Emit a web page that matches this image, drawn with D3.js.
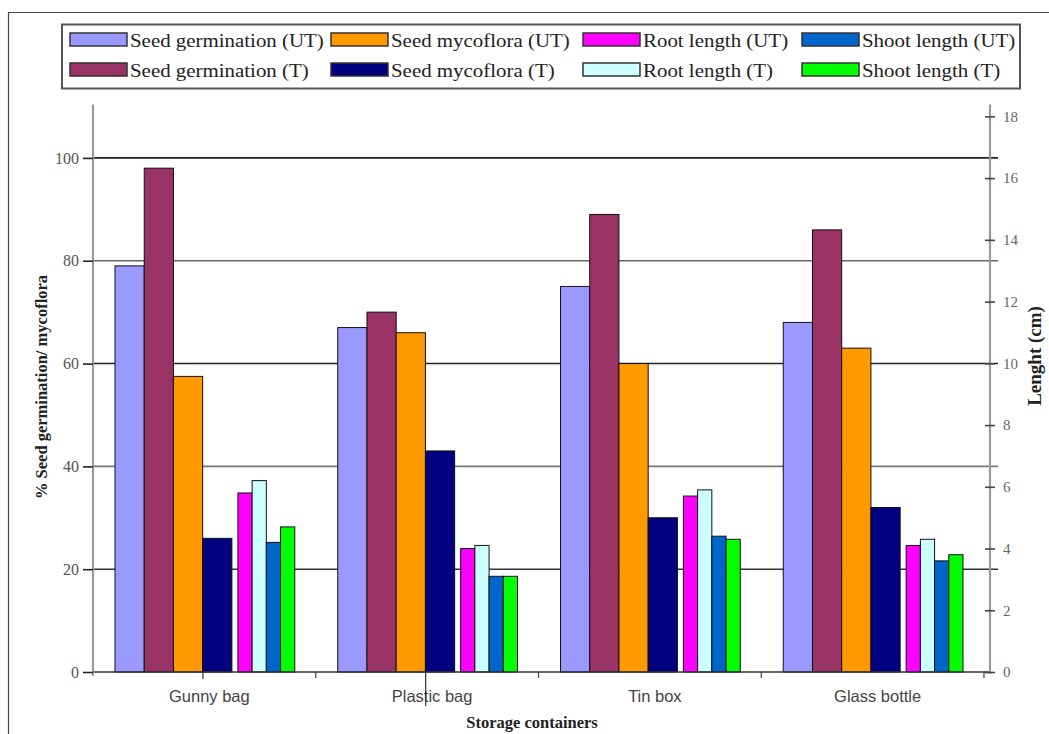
<!DOCTYPE html>
<html>
<head>
<meta charset="utf-8">
<script src="https://cdn.jsdelivr.net/npm/d3@7/dist/d3.min.js"></script>
<style>
  body { margin: 0; background: #fff; }
  svg { display: block; }
</style>
</head>
<body>
<svg id="chart" width="1049" height="734"></svg>
<script>
// ---- data ----
const categories = ["Gunny bag", "Plastic bag", "Tin box", "Glass bottle"];
const seriesNames = [
  "Seed germination (UT)", "Seed germination (T)", "Seed mycoflora (UT)", "Seed mycoflora (T)",
  "Root length (UT)", "Root length (T)", "Shoot length (UT)", "Shoot length (T)"
];
const seriesColors = ["#9999FF", "#993366", "#FF9900", "#000080", "#FF00FF", "#CCFFFF", "#0066CC", "#00FF00"];
// percentage series (left axis)
const seedGerminationUT = [79, 67, 75, 68];
const seedGerminationT  = [98, 70, 89, 86];
const seedMycofloraUT   = [57.5, 66, 60, 63];
const seedMycofloraT    = [26, 43, 30, 32];
// length series (right axis, cm)
const rootLengthUT  = [5.8, 4.0, 5.7, 4.1];
const rootLengthT   = [6.2, 4.1, 5.9, 4.3];
const shootLengthUT = [4.2, 3.1, 4.4, 3.6];
const shootLengthT  = [4.7, 3.1, 4.3, 3.8];
const leftTicks  = [0, 20, 40, 60, 80, 100];
const rightTicks = [0, 2, 4, 6, 8, 10, 12, 14, 16, 18];
const gridValues = [20, 40, 60, 80, 100];

const primary = [seedGerminationUT, seedGerminationT, seedMycofloraUT, seedMycofloraT];
const secondary = [rootLengthUT, rootLengthT, shootLengthUT, shootLengthT];

// ---- layout ----
const svg = d3.select("#chart");
const X0 = 93, X1 = 990, Y0 = 672, YTOP = 106.5;

const x = d3.scaleBand().domain(categories).range([96, 987]).padding(0);
const yL = d3.scaleLinear().domain([0, 110]).range([Y0, YTOP]);
const yR = d3.scaleLinear().domain([0, 18.32]).range([Y0, YTOP]);
const bw = x.bandwidth();
const off = 0.0853 * bw, bigW = 0.1312 * bw, gapW = 0.027 * bw, smallW = 0.0638 * bw;

// outer figure border
svg.append("path").attr("d", "M8.5,734 V12.5 H1049").attr("fill", "none").attr("stroke", "#444").attr("stroke-width", 1.2);

// gridlines
const gridColor = {20: "#333", 40: "#777", 60: "#222", 80: "#666", 100: "#222"};
svg.append("g").selectAll("line").data(gridValues).join("line")
  .attr("x1", X0).attr("x2", X1 + 8)
  .attr("y1", d => yL(d)).attr("y2", d => yL(d))
  .attr("stroke", d => gridColor[d]).attr("stroke-width", 1.6);

// bars (primary)
const gBars = svg.append("g");
primary.forEach((vals, si) => {
  gBars.selectAll(null).data(vals).join("rect")
    .attr("x", (d, i) => x(categories[i]) + off + si * bigW)
    .attr("width", bigW)
    .attr("y", d => yL(d))
    .attr("height", d => Y0 - yL(d))
    .attr("fill", seriesColors[si])
    .attr("stroke", "#111").attr("stroke-width", 1);
});
secondary.forEach((vals, si) => {
  gBars.selectAll(null).data(vals).join("rect")
    .attr("x", (d, i) => x(categories[i]) + off + 4 * bigW + gapW + si * smallW)
    .attr("width", smallW)
    .attr("y", d => yR(d))
    .attr("height", d => Y0 - yR(d))
    .attr("fill", seriesColors[si + 4])
    .attr("stroke", "#111").attr("stroke-width", 1);
});

// baseline
svg.append("line").attr("x1", X0).attr("x2", X1).attr("y1", Y0).attr("y2", Y0)
  .attr("stroke", "#333").attr("stroke-width", 1.6);

// left axis
const gL = svg.append("g").attr("transform", `translate(${X0},0)`)
  .call(d3.axisLeft(yL).tickValues(leftTicks).tickSize(10).tickPadding(4).tickFormat(d3.format("d")));
gL.select(".domain").attr("stroke", "#999").attr("stroke-width", 2.2).attr("d", `M0,${YTOP - 2}V${Y0 + 4}`);
gL.selectAll(".tick line").attr("stroke", "#222").attr("stroke-width", 1.6);
gL.selectAll(".tick text").attr("fill", "#555").style("font-family", "'Liberation Serif', serif").style("font-size", "16px");

// right axis
const gR = svg.append("g").attr("transform", `translate(${X1},0)`)
  .call(d3.axisRight(yR).tickValues(rightTicks).tickSize(5).tickPadding(8).tickFormat(d3.format("d")));
gR.select(".domain").attr("stroke", "#999").attr("stroke-width", 2.2).attr("d", `M0,${YTOP - 2}V${Y0 + 2}`);
gR.selectAll(".tick line").attr("x1", -5).attr("stroke", "#444").attr("stroke-width", 1.6);
gR.selectAll(".tick text").attr("fill", "#666").style("font-family", "'Liberation Serif', serif").style("font-size", "15px");

// x axis ticks (category boundaries)
const boundaries = categories.map(c => x(c) + bw);
svg.append("g").selectAll("line").data(boundaries).join("line")
  .attr("x1", d => d - 3).attr("x2", d => d - 3).attr("y1", Y0).attr("y2", Y0 + 6)
  .attr("stroke", "#444").attr("stroke-width", 1.2);
// stray tick marks seen on the original
svg.append("line").attr("x1", x(categories[0]) + 0.48 * bw).attr("x2", x(categories[0]) + 0.48 * bw)
  .attr("y1", Y0).attr("y2", Y0 + 7).attr("stroke", "#333").attr("stroke-width", 1.2);

// category labels
svg.append("g").selectAll("text").data(categories).join("text")
  .attr("x", d => x(d) + 0.5 * bw + 2)
  .attr("y", 702)
  .attr("text-anchor", "middle")
  .attr("fill", "#444")
  .style("font-family", "'Liberation Sans', Arial, sans-serif")
  .style("font-size", "16.5px")
  .text(d => d);
svg.append("line").attr("x1", x(categories[1]) + 0.48 * bw).attr("x2", x(categories[1]) + 0.48 * bw)
  .attr("y1", Y0).attr("y2", 706).attr("stroke", "#333").attr("stroke-width", 1.2);

// axis titles
const titleStyle = (sel, fs) => sel.style("font-family", "'Liberation Serif', 'Times New Roman', serif")
  .style("font-weight", "bold").style("font-size", fs).attr("fill", "#222");
svg.append("text").attr("x", 532).attr("y", 728).attr("text-anchor", "middle").call(titleStyle, "16.5px").text("Storage containers");
svg.append("text").attr("transform", "translate(47,387) rotate(-90)").attr("text-anchor", "middle").call(titleStyle, "16.5px")
  .text("% Seed germination/ mycoflora");
svg.append("text").attr("transform", "translate(1041,356) rotate(-90)").attr("text-anchor", "middle").call(titleStyle, "19px")
  .text("Lenght (cm)");

// legend
const lg = svg.append("g");
lg.append("rect").attr("x", 62).attr("y", 24.5).attr("width", 958).attr("height", 64)
  .attr("fill", "#fff").attr("stroke", "#555").attr("stroke-width", 2);
const colX = [70, 331, 583, 802];
const rowY = [33, 63];
// legend order: row 1 = UT series, row 2 = T series
const legendOrder = [0, 2, 4, 6, 1, 3, 5, 7];
legendOrder.forEach((si, k) => {
  const col = k % 4, row = Math.floor(k / 4);
  const gx = colX[col], gy = rowY[row];
  lg.append("rect").attr("x", gx).attr("y", gy).attr("width", 57).attr("height", 13)
    .attr("fill", seriesColors[si]).attr("stroke", "#333").attr("stroke-width", 1.5);
  lg.append("text").attr("transform", `translate(${gx + 60},${gy + 14}) scale(1.1,1)`)
    .style("font-family", "'Liberation Serif', 'Times New Roman', serif")
    .style("font-size", "19px").attr("fill", "#222")
    .text(seriesNames[si]);
});
</script>
</body>
</html>
